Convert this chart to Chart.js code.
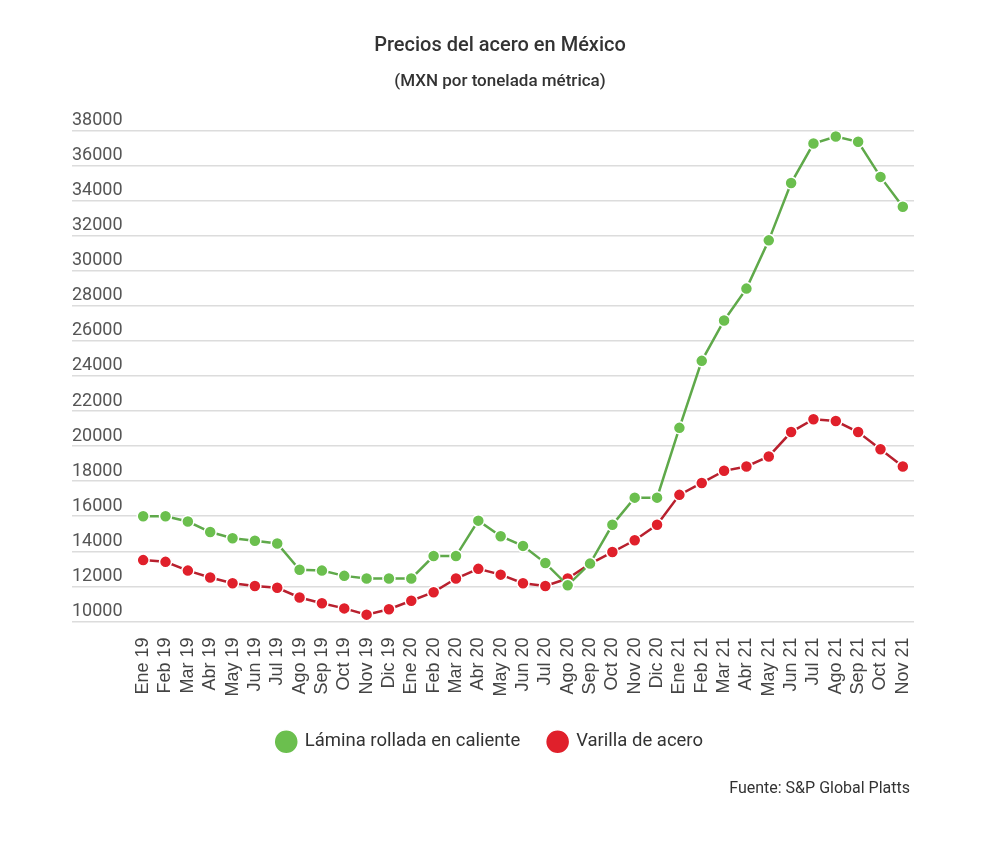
<!DOCTYPE html>
<html>
<head>
<meta charset="utf-8">
<script src="https://cdn.jsdelivr.net/npm/chart.js@4"></script>
<style>
  body { margin: 0; background: #fff; }
  #wrap { position: relative; width: 1000px; height: 858px; }
  #fuente { position: absolute; right: 90px; top: 778px; font: 16px Roboto, sans-serif; color: #333; }
</style>
</head>
<body>
<div id="wrap">
  <canvas id="chart" width="1000" height="858"></canvas>
  <div id="fuente">Fuente: S&amp;P Global Platts</div>
</div>
<script>
var months = ['Ene 19', 'Feb 19', 'Mar 19', 'Abr 19', 'May 19', 'Jun 19', 'Jul 19', 'Ago 19', 'Sep 19', 'Oct 19', 'Nov 19', 'Dic 19',
    'Ene 20', 'Feb 20', 'Mar 20', 'Abr 20', 'May 20', 'Jun 20', 'Jul 20', 'Ago 20', 'Sep 20', 'Oct 20', 'Nov 20', 'Dic 20',
    'Ene 21', 'Feb 21', 'Mar 21', 'Abr 21', 'May 21', 'Jun 21', 'Jul 21', 'Ago 21', 'Sep 21', 'Oct 21', 'Nov 21'];

var lamina = [16000, 16000, 15700, 15100, 14750, 14600, 14450, 12950, 12900, 12600, 12450, 12450,
    12450, 13730, 13730, 15750, 14860, 14310, 13330, 12060, 13300, 15510, 17060, 17060,
    21040, 24860, 27160, 28980, 31730, 35000, 37250, 37650, 37350, 35350, 33650];

var varilla = [13500, 13400, 12900, 12510, 12180, 12020, 11920, 11370, 11040, 10745, 10390, 10700,
    11180, 11670, 12450, 13000, 12670, 12180, 12020, 12450, 13290, 13960, 14630, 15510,
    17220, 17900, 18590, 18840, 19410, 20800, 21530, 21430, 20800, 19820, 18840];

var yMin = 10000;
var yMax = 38000;
var yStep = 2000;

// titles are centred on the page, the legend a bit to the left of it
var centreFix = {
    id: 'centreFix',
    afterLayout: function(chart) {
        chart.boxes.forEach(function(box) {
            var shift = 0;
            if (box === chart.legend) {
                shift = -3;
            } else if (box.options && typeof box.options.text === 'string' && box.options.text) {
                shift = 7;
            }
            box.left += shift;
            box.right += shift;
        });
    }
};

var ctx = document.getElementById('chart').getContext('2d');

new Chart(ctx, {
    type: 'line',
    data: {
        labels: months,
        datasets: [{
            label: 'Lámina rollada en caliente',
            data: lamina,
            borderColor: '#5fa94a',
            backgroundColor: '#6bbf4e',
            pointBackgroundColor: '#6bbf4e',
            pointBorderColor: '#fff',
            pointBorderWidth: 1.5,
            pointRadius: 6,
            borderWidth: 2.5,
            pointStyle: 'circle'
        }, {
            label: 'Varilla de acero',
            data: varilla,
            borderColor: '#b8202e',
            backgroundColor: '#e0202b',
            pointBackgroundColor: '#e0202b',
            pointBorderColor: '#fff',
            pointBorderWidth: 1.5,
            pointRadius: 6,
            borderWidth: 2.5,
            pointStyle: 'circle'
        }]
    },
    plugins: [centreFix],
    options: {
        responsive: false,
        animation: false,
        layout: {
            padding: { left: 72, right: 86, bottom: 97 }
        },
        plugins: {
            title: {
                display: true,
                text: 'Precios del acero en México',
                color: '#333',
                font: { family: 'Roboto', size: 20, weight: '500' },
                padding: { top: 34, bottom: 8 }
            },
            subtitle: {
                display: true,
                text: '(MXN por tonelada métrica)',
                color: '#333',
                font: { family: 'Roboto', size: 17, weight: '500' },
                padding: { top: 6, bottom: 38 }
            },
            legend: {
                position: 'bottom',
                labels: {
                    usePointStyle: true,
                    boxHeight: 17,
                    padding: 28,
                    color: '#333',
                    font: { family: 'Roboto', size: 18.5 }
                }
            },
            tooltip: { enabled: false }
        },
        scales: {
            x: {
                offset: true,
                grid: { display: false },
                border: { display: false },
                ticks: {
                    minRotation: 90,
                    maxRotation: 90,
                    autoSkip: false,
                    padding: 8,
                    color: '#444',
                    font: { family: 'Liberation Sans', size: 18 }
                }
            },
            y: {
                min: yMin,
                max: yMax,
                border: { display: false },
                grid: {
                    color: '#dcdcdc',
                    lineWidth: 1.5,
                    tickLength: 60,
                    tickColor: '#dcdcdc'
                },
                afterFit: function(scale) {
                    scale.width = 60;
                },
                ticks: {
                    stepSize: yStep,
                    crossAlign: 'far',
                    labelOffset: -10,
                    color: '#555',
                    font: { family: 'Roboto', size: 18 },
                    callback: function(value) {
                        return String(value);
                    }
                }
            }
        }
    }
});
</script>
</body>
</html>
